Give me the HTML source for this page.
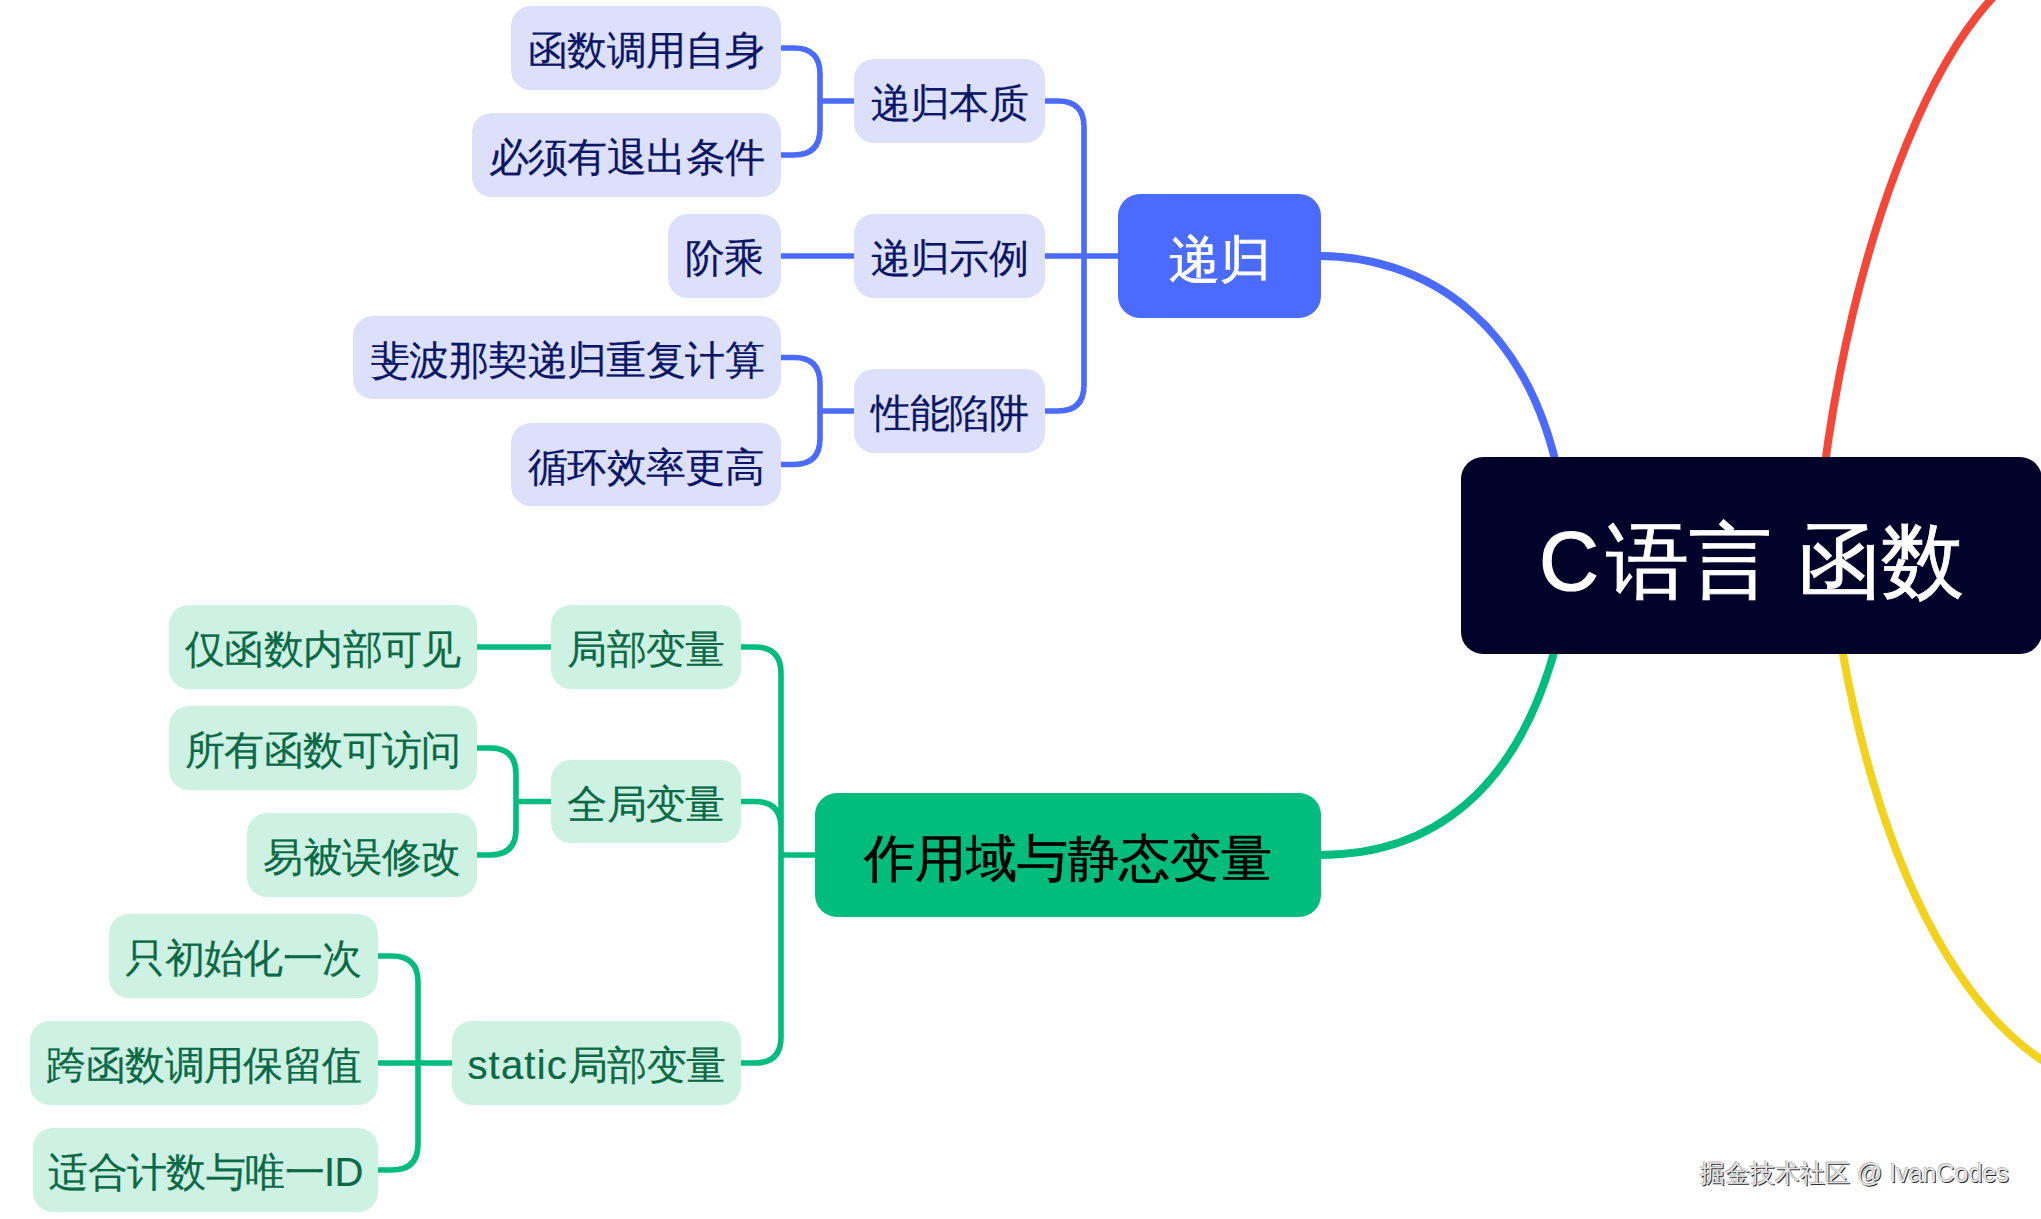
<!DOCTYPE html>
<html><head><meta charset="utf-8"><style>
html,body{margin:0;padding:0;background:#fff;width:2041px;height:1219px;overflow:hidden;position:relative}
body{font-family:"Liberation Sans",sans-serif}
.n{-webkit-text-stroke:0.2px currentColor;position:absolute;display:flex;align-items:center;justify-content:center;white-space:nowrap;box-sizing:border-box;line-height:1}
.wm{position:absolute;left:1700px;top:1157px;font-size:25px;color:#e4e4e4;white-space:nowrap;text-shadow:1px 1px 0.6px #2a2a2a,-0.6px -0.6px 0.6px #b8b8b8}
</style></head><body>
<svg width="2041" height="1219" style="position:absolute;left:0;top:0" fill="none" stroke-linecap="butt"><path d="M1320,256 C1405,256 1554,304 1569,555.5" stroke="#4b6afe" stroke-width="8"/><path d="M1320,855 C1405.9,855 1537.7,817.7 1571.6,565.5" stroke="#00bd7d" stroke-width="8"/><path d="M2066,-41.6 C1946,-41.6 1822,295.4 1813.4,607.6" stroke="#f3473a" stroke-width="8"/><path d="M2126,1088 C2011,1088 1864.7,923.5 1824.7,522.6" stroke="#f3d21e" stroke-width="8"/><g stroke-width="5.6"><path d="M1118,256.0 H1084 M1084,256.0 V127.0 Q1084,101.0 1058,101.0 H1045 M1084,256.0 H1045 M1084,256.0 V385.0 Q1084,411.0 1058,411.0 H1045" stroke="#4b6afe"/><path d="M854,101.0 H820 M820,101.0 V74.0 Q820,48.0 794,48.0 H781 M820,101.0 V129.0 Q820,155.0 794,155.0 H781" stroke="#4b6afe"/><path d="M854,256.0 H820 M820,256.0 H781" stroke="#4b6afe"/><path d="M854,411.0 H820 M820,411.0 V383.5 Q820,357.5 794,357.5 H781 M820,411.0 V438.5 Q820,464.5 794,464.5 H781" stroke="#4b6afe"/><path d="M815,855.0 H781 M781,855.0 V673.0 Q781,647.0 755,647.0 H741 M781,855.0 V827.5 Q781,801.5 755,801.5 H741 M781,855.0 V1037.0 Q781,1063.0 755,1063.0 H741" stroke="#00bd7d"/><path d="M551,647.0 H516 M516,647.0 H477" stroke="#00bd7d"/><path d="M551,801.5 H516 M516,801.5 V774.0 Q516,748.0 490,748.0 H477 M516,801.5 V829.0 Q516,855.0 490,855.0 H477" stroke="#00bd7d"/><path d="M452,1063.0 H418 M418,1063.0 V982.0 Q418,956.0 392,956.0 H378 M418,1063.0 H378 M418,1063.0 V1144.0 Q418,1170.0 392,1170.0 H378" stroke="#00bd7d"/></g></svg>
<div class="n" style="-webkit-text-stroke:0.8px #fff;left:1461px;top:457px;width:581px;height:197px;background:#01022a;color:#ffffff;font-size:83px;letter-spacing:0px;border-radius:22px"><span style="position:relative;top:6px"><span style="letter-spacing:7px;-webkit-text-stroke:1.2px #fff">C</span>语言<span style="word-spacing:3px"> </span>函数</span></div><div class="n" style="-webkit-text-stroke:0.6px currentColor;left:1118px;top:194px;width:203px;height:124px;background:#4b6afe;color:#ffffff;font-size:51px;letter-spacing:0px;border-radius:22px"><span style="position:relative;top:3px">递归</span></div><div class="n" style="left:854px;top:59px;width:191px;height:84px;background:#dde0fb;color:#0b1667;font-size:40px;letter-spacing:-0.6px;border-radius:20px"><span style="position:relative;top:2px">递归本质</span></div><div class="n" style="left:854px;top:214px;width:191px;height:84px;background:#dde0fb;color:#0b1667;font-size:40px;letter-spacing:-0.6px;border-radius:20px"><span style="position:relative;top:2px">递归示例</span></div><div class="n" style="left:854px;top:369px;width:191px;height:84px;background:#dde0fb;color:#0b1667;font-size:40px;letter-spacing:-0.6px;border-radius:20px"><span style="position:relative;top:2px">性能陷阱</span></div><div class="n" style="left:511px;top:6px;width:270px;height:84px;background:#dde0fb;color:#0b1667;font-size:40px;letter-spacing:-0.6px;border-radius:20px"><span style="position:relative;top:2px">函数调用自身</span></div><div class="n" style="left:472px;top:113px;width:309px;height:84px;background:#dde0fb;color:#0b1667;font-size:40px;letter-spacing:-0.6px;border-radius:20px"><span style="position:relative;top:2px">必须有退出条件</span></div><div class="n" style="left:668px;top:214px;width:113px;height:84px;background:#dde0fb;color:#0b1667;font-size:40px;letter-spacing:-0.6px;border-radius:20px"><span style="position:relative;top:2px">阶乘</span></div><div class="n" style="left:353px;top:316px;width:428px;height:83px;background:#dde0fb;color:#0b1667;font-size:40px;letter-spacing:-0.6px;border-radius:20px"><span style="position:relative;top:2px">斐波那契递归重复计算</span></div><div class="n" style="left:511px;top:423px;width:270px;height:83px;background:#dde0fb;color:#0b1667;font-size:40px;letter-spacing:-0.6px;border-radius:20px"><span style="position:relative;top:2px">循环效率更高</span></div><div class="n" style="-webkit-text-stroke:0.6px currentColor;left:815px;top:793px;width:506px;height:124px;background:#00bd7d;color:#000000;font-size:51px;letter-spacing:0px;border-radius:22px"><span style="position:relative;top:3px">作用域与静态变量</span></div><div class="n" style="left:551px;top:605px;width:190px;height:84px;background:#cdf1e3;color:#0b6a45;font-size:40px;letter-spacing:-0.6px;border-radius:20px"><span style="position:relative;top:2px">局部变量</span></div><div class="n" style="left:551px;top:760px;width:190px;height:83px;background:#cdf1e3;color:#0b6a45;font-size:40px;letter-spacing:-0.6px;border-radius:20px"><span style="position:relative;top:2px">全局变量</span></div><div class="n" style="left:452px;top:1021px;width:289px;height:84px;background:#cdf1e3;color:#0b6a45;font-size:40px;letter-spacing:-0.6px;border-radius:20px"><span style="position:relative;top:2px"><span style="letter-spacing:1.2px">static</span>局部变量</span></div><div class="n" style="left:169px;top:605px;width:308px;height:84px;background:#cdf1e3;color:#0b6a45;font-size:40px;letter-spacing:-0.6px;border-radius:20px"><span style="position:relative;top:2px">仅函数内部可见</span></div><div class="n" style="left:169px;top:706px;width:308px;height:84px;background:#cdf1e3;color:#0b6a45;font-size:40px;letter-spacing:-0.6px;border-radius:20px"><span style="position:relative;top:2px">所有函数可访问</span></div><div class="n" style="left:247px;top:813px;width:230px;height:84px;background:#cdf1e3;color:#0b6a45;font-size:40px;letter-spacing:-0.6px;border-radius:20px"><span style="position:relative;top:2px">易被误修改</span></div><div class="n" style="left:109px;top:914px;width:269px;height:84px;background:#cdf1e3;color:#0b6a45;font-size:40px;letter-spacing:-0.6px;border-radius:20px"><span style="position:relative;top:2px">只初始化一次</span></div><div class="n" style="left:30px;top:1021px;width:348px;height:84px;background:#cdf1e3;color:#0b6a45;font-size:40px;letter-spacing:-0.6px;border-radius:20px"><span style="position:relative;top:2px">跨函数调用保留值</span></div><div class="n" style="left:33px;top:1128px;width:345px;height:84px;background:#cdf1e3;color:#0b6a45;font-size:40px;letter-spacing:-0.6px;border-radius:20px"><span style="position:relative;top:2px">适合计数与唯一ID</span></div>
<div class="wm">掘金技术社区 @ IvanCodes</div>
</body></html>
